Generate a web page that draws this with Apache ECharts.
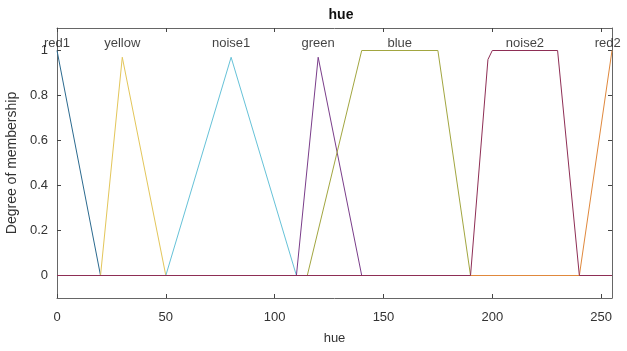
<!DOCTYPE html>
<html>
<head>
<meta charset="utf-8">
<script src="https://cdn.jsdelivr.net/npm/echarts@6/dist/echarts.min.js"></script>
<style>html,body{margin:0;padding:0;background:#fff;}#c{width:627px;height:351px;}</style>
</head>
<body>
<div id="c"></div>
<script>
// Membership function names and breakpoints [hue, degree]
const mfNames = ['red1', 'yellow', 'noise1', 'green', 'blue', 'noise2', 'red2'];
const red1 = [[0, 1], [20, 0], [255, 0]];
const yellow = [[0, 0], [20, 0], [30, 0.97], [50, 0], [255, 0]];
const noise1 = [[0, 0], [50, 0], [80, 0.97], [110, 0], [255, 0]];
const green = [[0, 0], [110, 0], [120, 0.97], [140, 0], [255, 0]];
const blue = [[0, 0], [115, 0], [140, 1], [175, 1], [190, 0], [255, 0]];
const noise2 = [[0, 0], [190, 0], [198, 0.96], [200, 1], [230, 1], [240, 0], [255, 0]];
const red2 = [[0, 0], [240, 0], [255, 1]];
// label anchor positions (hue) for each membership function name
const labelX = [0, 30, 80, 120, 157.5, 215, 253];
const xTicks = [0, 50, 100, 150, 200, 250];
const yTicks = [0, 0.2, 0.4, 0.6, 0.8, 1];

const mfData = [red1, yellow, noise1, green, blue, noise2, red2];
const colors = ['#2b6a8f', '#e3c65a', '#66c2d8', '#7a3d8a', '#a2a640', '#8e2e55', '#e0883c'];

const chart = echarts.init(document.getElementById('c'), null, {renderer: 'canvas'});
const font = 'Liberation Sans, Arial, sans-serif';
const axisLine = {show: true, onZero: false, lineStyle: {color: '#666', width: 1}};
const tick = {show: true, inside: true, length: 4, lineStyle: {color: '#444'}};

const series = mfNames.map((n, i) => ({
  name: n,
  type: 'line',
  data: mfData[i],
  symbol: 'none',
  z: i === 5 ? 10 : 2 + i,
  lineStyle: {color: colors[i], width: 1},
  itemStyle: {color: colors[i]},
  animation: false
}));
series.push({
  type: 'scatter',
  data: labelX.map((x, i) => ({value: [x, 1], name: mfNames[i]})),
  symbolSize: 0,
  silent: true,
  z: 20,
  label: {show: true, position: 'top', distance: 1, formatter: p => p.name,
          color: '#111', fontSize: 13, fontFamily: font},
  animation: false
});

chart.setOption({
  backgroundColor: '#fff',
  title: {text: 'hue', left: 336, top: 3, textAlign: 'center',
          textStyle: {fontSize: 14, fontWeight: 'bold', color: '#111', fontFamily: font}},
  grid: {left: 57, right: 15, top: 28, bottom: 53, containLabel: false, outerBoundsMode: 'none'},
  xAxis: [{
    type: 'value', min: 0, max: 255, interval: 50,
    name: 'hue', nameLocation: 'middle', nameGap: 34,
    nameTextStyle: {fontSize: 13, color: '#333', fontFamily: font},
    axisLine: axisLine,
    axisTick: Object.assign({customValues: xTicks}, tick),
    axisLabel: {color: '#333', fontSize: 13, fontFamily: font, margin: 13, customValues: xTicks},
    splitLine: {show: false}
  }, {
    type: 'value', position: 'top', min: 0, max: 255, interval: 50,
    axisLine: axisLine,
    axisTick: Object.assign({customValues: xTicks}, tick),
    axisLabel: {show: false},
    splitLine: {show: false}
  }],
  yAxis: [{
    type: 'value', min: -0.1, max: 1.1,
    name: 'Degree of membership', nameLocation: 'middle', nameGap: 34,
    nameTextStyle: {fontSize: 14, color: '#333', fontFamily: font},
    axisLine: axisLine,
    axisTick: Object.assign({customValues: yTicks}, tick),
    axisLabel: {color: '#333', fontSize: 13, fontFamily: font, margin: 9, customValues: yTicks,
                formatter: v => String(Math.round(v * 10) / 10)},
    splitLine: {show: false}
  }, {
    type: 'value', position: 'right', min: -0.1, max: 1.1,
    axisLine: axisLine,
    axisTick: Object.assign({customValues: yTicks}, tick),
    axisLabel: {show: false},
    splitLine: {show: false}
  }],
  series: series
});
</script>
</body>
</html>
